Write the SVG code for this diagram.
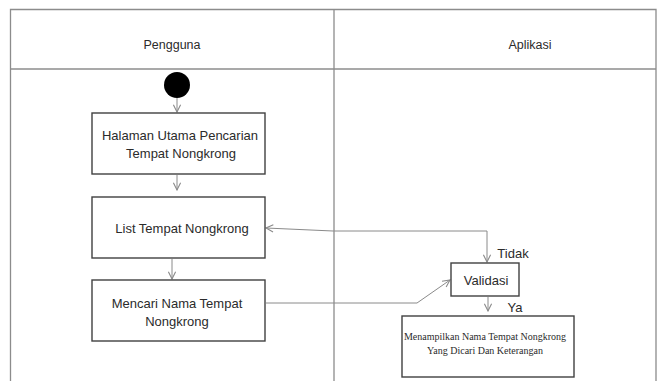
<svg xmlns="http://www.w3.org/2000/svg" width="658" height="381" viewBox="0 0 658 381">
<style>
.lane{fill:none;stroke:#8c8c8c;stroke-width:1.3}
.box{fill:#fff;stroke:#404040;stroke-width:1.4}
.t{font-family:"Liberation Sans",Arial,sans-serif;font-size:13px;fill:#2b2b2b;text-anchor:middle}
.h{font-family:"Liberation Sans",Arial,sans-serif;font-size:12.5px;fill:#2b2b2b;text-anchor:middle}
.s{font-family:"Liberation Serif","Times New Roman",serif;font-size:10px;fill:#2b2b2b;text-anchor:middle}
.c{fill:none;stroke:#8a8a8a;stroke-width:1}
</style>
<defs>
<marker id="arr" viewBox="0 0 10 10" refX="9" refY="5" markerWidth="9" markerHeight="9" markerUnits="userSpaceOnUse" orient="auto">
<path d="M1,1 L9,5 L1,9" fill="none" stroke="#8a8a8a" stroke-width="1.2"/>
</marker>
</defs>
<rect width="658" height="381" fill="#fff"/>
<g id="swimlanes">
<path class="lane" d="M10.5,390 V9.5 H656 V390"/>
<line class="lane" x1="334" y1="9.5" x2="334" y2="390"/>
<line class="lane" x1="10.5" y1="69" x2="656" y2="69"/>
<text class="h" x="172" y="49">Pengguna</text>
<text class="h" x="530" y="49">Aplikasi</text>
</g>
<g id="connectors">
<line class="c" x1="177" y1="98" x2="177" y2="112" marker-end="url(#arr)"/>
<line class="c" x1="177" y1="175" x2="177" y2="190" marker-end="url(#arr)"/>
<line class="c" x1="172" y1="259" x2="172" y2="279" marker-end="url(#arr)"/>
<polyline class="c" points="487,231 333,231 266,228" marker-end="url(#arr)"/>
<line class="c" x1="487" y1="231" x2="487" y2="262" marker-end="url(#arr)"/>
<polyline class="c" points="266,303 417,303 450,280" marker-end="url(#arr)"/>
<line class="c" x1="488" y1="297" x2="488" y2="311" marker-end="url(#arr)"/>
</g>
<g id="start">
<circle cx="177" cy="85" r="13" fill="#000"/>
</g>
<g id="halaman">
<rect class="box" x="92" y="113" width="173" height="61"/>
<text class="t" x="180" y="140">Halaman Utama Pencarian</text>
<text class="t" x="181" y="158">Tempat Nongkrong</text>
</g>
<g id="list">
<rect class="box" x="92" y="197" width="173" height="61"/>
<text class="t" x="182" y="233">List Tempat Nongkrong</text>
</g>
<g id="mencari">
<rect class="box" x="92" y="280" width="173" height="61"/>
<text class="t" x="177" y="308">Mencari Nama Tempat</text>
<text class="t" x="177" y="326">Nongkrong</text>
</g>
<g id="validasi">
<rect class="box" x="451" y="263" width="68" height="33"/>
<text class="t" x="486" y="285">Validasi</text>
<text class="t" x="513" y="258">Tidak</text>
<text class="t" x="515" y="312">Ya</text>
</g>
<g id="menampilkan">
<rect class="box" x="402" y="316" width="172" height="61"/>
<text class="s" x="485" y="340">Menampilkan Nama Tempat Nongkrong</text>
<text class="s" x="485" y="354">Yang Dicari Dan Keterangan</text>
</g>
</svg>
